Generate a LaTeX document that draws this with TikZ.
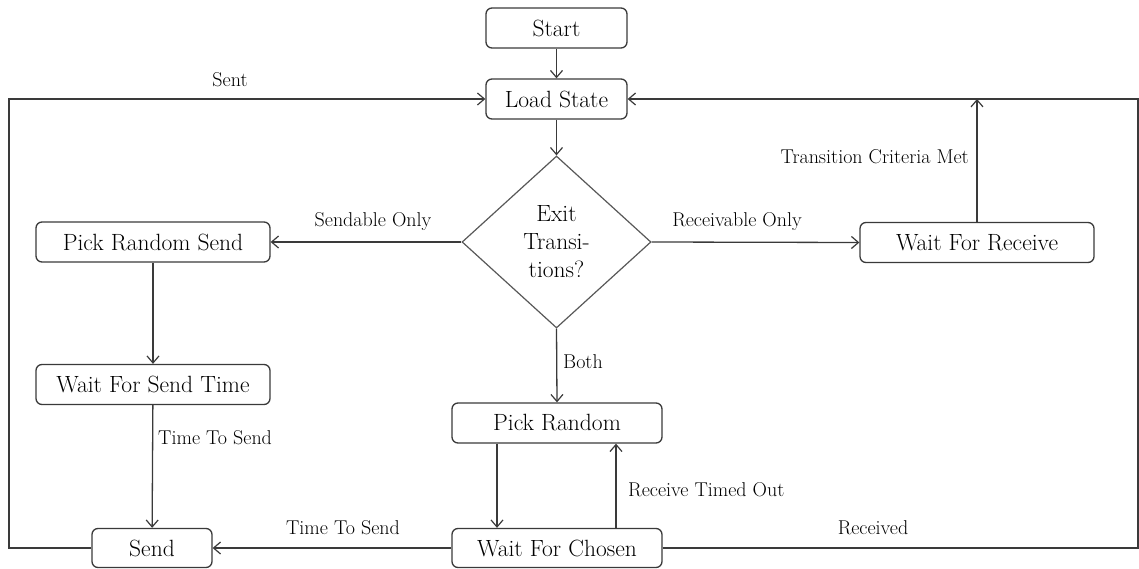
\documentclass[tikz,border=0pt]{standalone}
\usetikzlibrary{arrows.meta,shapes.geometric}
\definecolor{ink}{HTML}{3A3A3A}
\tikzset{
  x=1pt, y=-1pt,
  state/.style={draw=ink, line width=1.3pt, rounded corners=6pt, inner sep=0pt,
    minimum height=40pt, font=\fontsize{23.5}{28}\selectfont, text=black},
  choice/.style={draw=ink!85, line width=1.2pt, shape=diamond, aspect=1, inner sep=0pt,
    minimum width=189pt, minimum height=172pt, align=center,
    font=\fontsize{23.5}{28}\selectfont, text=black},
  lbl/.style={inner sep=0pt, font=\fontsize{20}{23}\selectfont, text=black},
  conn/.style={draw=ink, line width=1.3pt},
  arr/.style={conn, -{Straight Barb[length=7pt,width=12pt,line width=1.2pt]}}
}
\begin{document}
\begin{tikzpicture}
\useasboundingbox (0,0) rectangle (1139,569);

% states
\node[state, minimum width=141pt] (start) at (556.5,28) {Start};
\node[state, minimum width=141pt] (load)  at (556.5,99) {Load State};
\node[choice] (exit) at (556.5,242) {Exit\\Transi-\\tions?};
\node[state, minimum width=234pt] (prs) at (153,242) {Pick Random Send};
\node[state, minimum width=234pt] (wfst) at (153,384.5) {Wait For Send Time};
\node[state, minimum width=120pt, minimum height=39pt] (send) at (152,548) {Send};
\node[state, minimum width=210pt] (pr) at (557,423) {Pick Random};
\node[state, minimum width=210pt, minimum height=39pt] (wfc) at (557,548) {Wait For Chosen};
\node[state, minimum width=234pt] (wfr) at (977,242.5) {Wait For Receive};

% loop corners
\coordinate (ltop) at (9,99);
\coordinate (rtop) at (1138,99);

% connectors
\draw[arr] (start) -- (load);
\draw[arr] (load) -- (exit.north);
\draw[arr] (exit.west) -- (prs.east);
\draw[arr] (exit.east) -- (wfr.west);
\draw[arr] (exit.south) -- (pr.north);
\draw[arr] (prs) -- (wfst);
\draw[arr] (wfst) -- (send);
\draw[arr] (wfc.west) -- (send.east);
\draw[arr] ([xshift=-60pt]pr.south) -- ([xshift=-60pt]wfc.north);
\draw[arr] ([xshift=59pt]wfc.north) -- ([xshift=59pt]pr.south);
\draw[arr] (send.west) -| (ltop) -- (load.west);
\draw[arr] (wfc.east) -| (rtop) -- (load.east);
\draw[arr] (wfr.north) -- (wfr.north |- load.east);

% labels
\node[lbl] (lsent) at (230,80) {Sent};
\node[lbl] (lsend) at (373,222) {Sendable Only};
\node[lbl] (lrecv) at (737,222) {Receivable Only};
\node[lbl, anchor=east] (lcrit) at (969,157) {Transition Criteria Met};
\node[lbl, anchor=west] (lboth) at (563,362) {Both};
\node[lbl, anchor=west] (ltts1) at (158,438) {Time To Send};
\node[lbl] (ltts2) at (343,528) {Time To Send};
\node[lbl, anchor=west] (lrto) at (628,490) {Receive Timed Out};
\node[lbl] (lrcvd) at (873,528) {Received};
\end{tikzpicture}
\end{document}
